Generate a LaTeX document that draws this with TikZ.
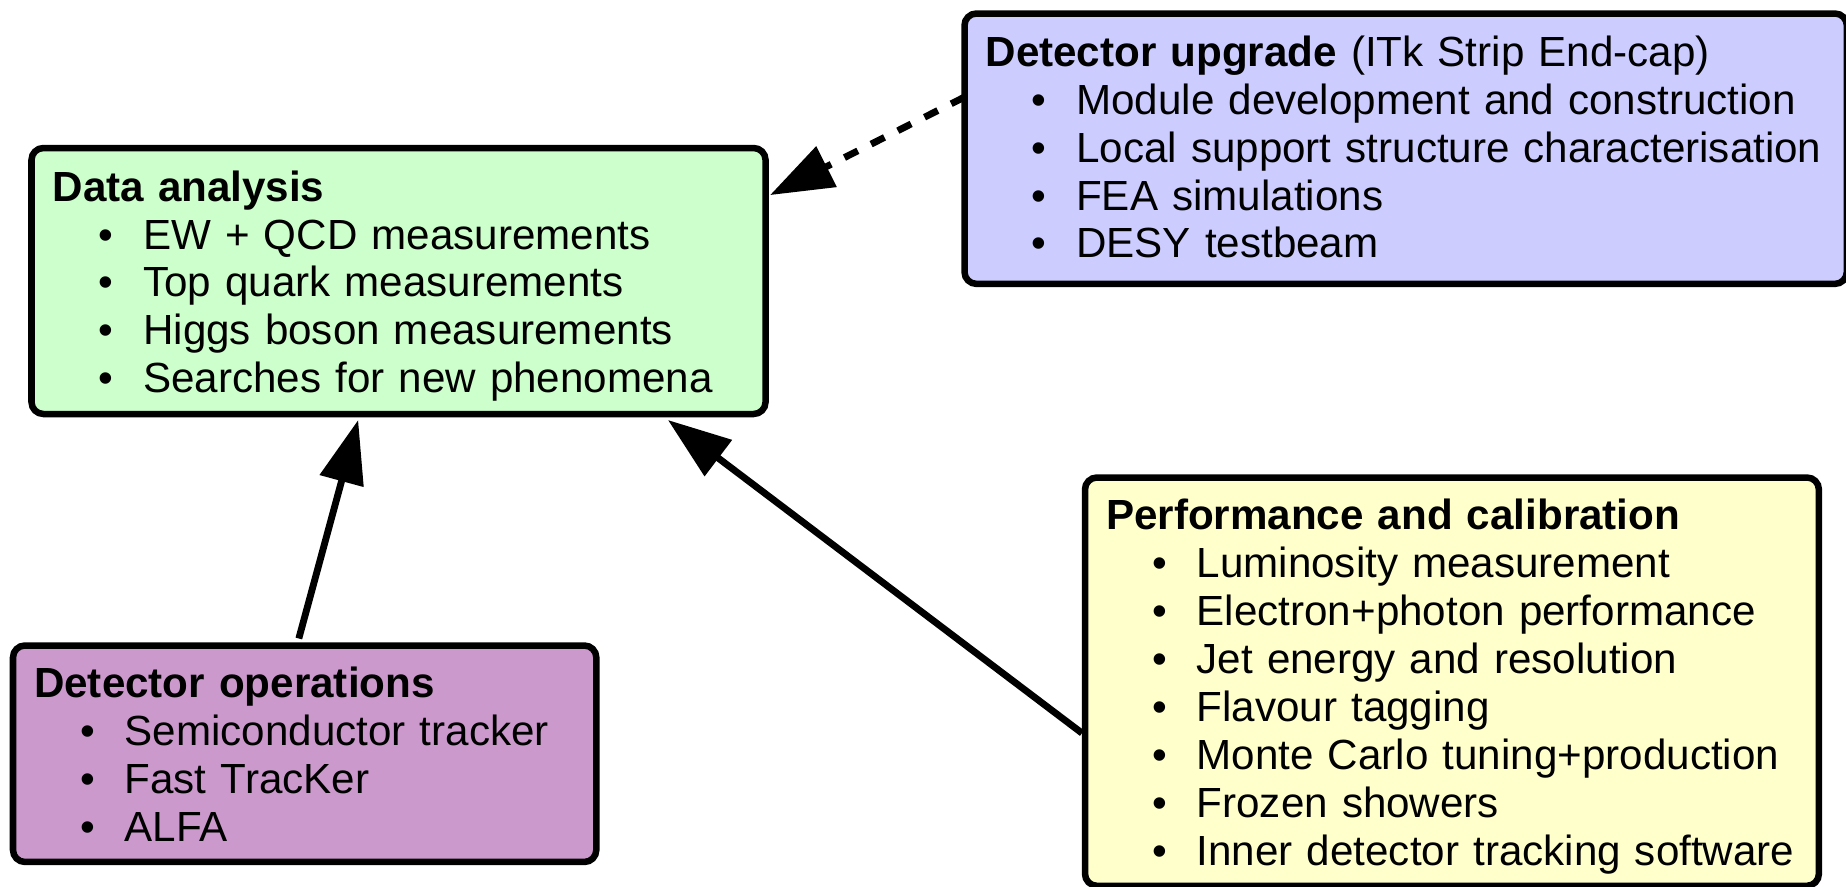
\documentclass[tikz,border=0pt]{standalone}
\usepackage{fontspec}
\setmainfont{Liberation Sans}
\usetikzlibrary{arrows.meta,calc}

\definecolor{anagreen}{HTML}{CCFFCC}
\definecolor{upgblue}{HTML}{CCCCFF}
\definecolor{opspink}{HTML}{CC99CC}
\definecolor{perfyellow}{HTML}{FFFFCC}

% box heading and one bulleted line inside a box
\newcommand{\hdg}[2][24pt]{\rule{0pt}{#1}\mbox{#2}}
\newcommand{\itm}[1]{\\\hspace*{1.1em}\textbullet\hspace{0.7em}\mbox{#1}\rule[-5.8pt]{0pt}{5.8pt}}

\begin{document}
\begin{tikzpicture}[x=0.02cm, y=-0.02cm,
    box/.style={draw, line width=3.7pt, rounded corners=6.8pt, anchor=north west,
        align=left, inner xsep=12pt, inner ysep=0pt, outer sep=0pt,
        font=\fontsize{24}{27.3}\selectfont},
    link/.style={line width=3.9pt, -{Triangle[length=36pt,width=25pt]}}]
    \useasboundingbox (0,0) rectangle (1846,886);

    % Data analysis
    \node[box, fill=anagreen, text width=393.8pt, minimum height=151.4pt] (data) at (31.5,148)
        {\hdg{\textbf{Data analysis}}
         \itm{EW + QCD measurements}
         \itm{Top quark measurements}
         \itm{Higgs boson measurements}
         \itm{Searches for new phenomena}};

    % Detector upgrade
    \node[box, fill=upgblue, text width=478.2pt, minimum height=153.9pt] (upgrade) at (964.5,13.5)
        {\hdg[21pt]{\textbf{Detector upgrade} (ITk Strip End-cap)}
         \itm{Module development and construction}
         \itm{Local support structure characterisation}
         \itm{FEA simulations}
         \itm{DESY testbeam}};

    % Detector operations
    \node[box, fill=opspink, text width=308pt, minimum height=123.2pt] (ops) at (13,645.5)
        {\hdg{\textbf{Detector operations}}
         \itm{Semiconductor tracker}
         \itm{Fast TracKer}
         \itm{ALFA}};

    % Performance and calibration
    \node[box, fill=perfyellow, text width=393.7pt, minimum height=232.4pt] (perf) at (1085,477.5)
        {\hdg{\textbf{Performance and calibration}}
         \itm{Luminosity measurement}
         \itm{Electron+photon performance}
         \itm{Jet energy and resolution}
         \itm{Flavour tagging}
         \itm{Monte Carlo tuning+production}
         \itm{Frozen showers}
         \itm{Inner detector tracking software}};

    % Arrows into data analysis
    \draw[link] ($(ops.north west)!.49!(ops.north east)+(0,-7)$)
        -- ($(data.south west)!.445!(data.south east)+(0,6)$);
    \draw[link] ($(perf.north west)!.626!(perf.south west)+(-3,0)$)
        -- ($(data.south west)!.867!(data.south east)+(0,6)$);
    \draw[link, dash pattern=on 8.5pt off 8.5pt] ($(upgrade.north west)!.309!(upgrade.south west)$)
        -- ($(data.north east)!.177!(data.south east)+(4.5,0)$);
\end{tikzpicture}
\end{document}
